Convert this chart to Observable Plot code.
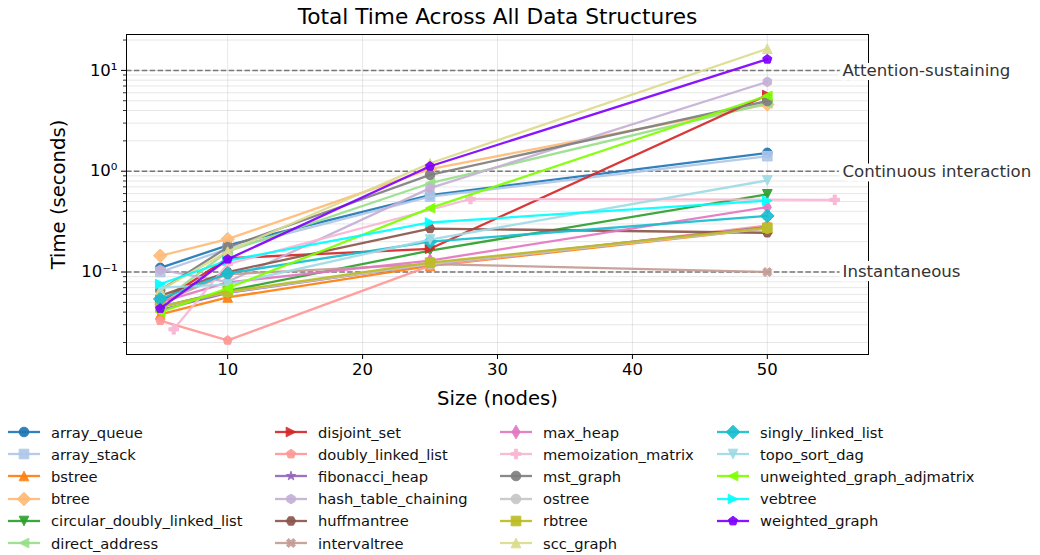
<!DOCTYPE html>
<html>
<head>
<meta charset="utf-8">
<script src="https://cdn.jsdelivr.net/npm/d3@7"></script>
<script src="https://cdn.jsdelivr.net/npm/@observablehq/plot@0.6"></script>
<style>
  body { margin: 0; background: white; }
  #wrap { width: 1040px; height: 555px; position: relative; background: white; font-family: "DejaVu Sans", sans-serif; overflow: hidden; }
  #legend { position: absolute; left: 8px; top: 421px; display: grid; grid-auto-flow: column;
    grid-template-columns: 267px 225px 217px 300px; grid-template-rows: repeat(6, 22.2px); }
  .item { display: flex; align-items: center; font-size: 14.7px; color: #111; white-space: nowrap; }
  .item span { margin-left: 11px; }
</style>
</head>
<body>
<div id="wrap"><div id="chart"></div><div id="legend"></div></div>
<script>
// ---------------- data ----------------
const sizes = [5, 10, 25, 50];
const memoSizes = [6, 10, 28, 55];
const names = ["array_queue","array_stack","bstree","btree","circular_doubly_linked_list","direct_address",
  "disjoint_set","doubly_linked_list","fibonacci_heap","hash_table_chaining","huffmantree","intervaltree",
  "max_heap","memoization_matrix","mst_graph","ostree","rbtree","scc_graph","singly_linked_list",
  "topo_sort_dag","unweighted_graph_adjmatrix","vebtree","weighted_graph"];
const colors = ["#1f77b4","#aec7e8","#ff7f0e","#ffbb78","#2ca02c","#98df8a","#d62728","#ff9896","#9467bd",
  "#c5b0d5","#8c564b","#c49c94","#e377c2","#f7b6d2","#7f7f7f","#c7c7c7","#bcbd22","#dbdb8d","#17becf",
  "#9edae5","#7fff00","#00ffff","#7f00ff"];
const markers = ["o","s","^","D","v","<",">","p","*","h","H","X","d","P","o","o","s","^","D","v","<",">","p"];

const array_queue = [0.110, 0.184, 0.58, 1.52];
const array_stack = [0.100, 0.170, 0.56, 1.41];
const bstree = [0.038, 0.056, 0.115, 0.27];
const btree = [0.145, 0.212, 1.05, 4.6];
const circular_doubly_linked_list = [0.045, 0.065, 0.163, 0.59];
const direct_address = [0.050, 0.160, 0.76, 4.7];
const disjoint_set = [0.050, 0.137, 0.17, 5.7];
const doubly_linked_list = [0.033, 0.021, 0.115, 0.29];
const fibonacci_heap = [0.042, 0.062, 0.12, 0.28];
const hash_table_chaining = [0.105, 0.080, 0.68, 7.7];
const huffmantree = [0.058, 0.100, 0.27, 0.245];
const intervaltree = [0.050, 0.095, 0.12, 0.10];
const max_heap = [0.050, 0.079, 0.13, 0.44];
const memoization_matrix = [0.027, 0.12, 0.53, 0.52];
const mst_graph = [0.066, 0.176, 0.92, 4.97];
const ostree = [0.045, 0.063, 0.12, 0.27];
const rbtree = [0.045, 0.064, 0.124, 0.275];
const scc_graph = [0.066, 0.16, 1.2, 16.4];
const singly_linked_list = [0.054, 0.097, 0.20, 0.36];
const topo_sort_dag = [0.070, 0.075, 0.21, 0.81];
const unweighted_graph_adjmatrix = [0.040, 0.069, 0.43, 5.6];
const vebtree = [0.076, 0.13, 0.31, 0.51];
const weighted_graph = [0.0435, 0.134, 1.12, 12.9];

const seriesValues = [array_queue, array_stack, bstree, btree, circular_doubly_linked_list, direct_address,
  disjoint_set, doubly_linked_list, fibonacci_heap, hash_table_chaining, huffmantree, intervaltree,
  max_heap, memoization_matrix, mst_graph, ostree, rbtree, scc_graph, singly_linked_list,
  topo_sort_dag, unweighted_graph_adjmatrix, vebtree, weighted_graph];

const xTicks = [10, 20, 30, 40, 50];
const yTicks = [0.1, 1, 10];
const yTickLabels = ["10\u207B\u00B9", "10\u2070", "10\u00B9"];
const yMinorTicks = [0.02,0.03,0.04,0.05,0.06,0.07,0.08,0.09,0.2,0.3,0.4,0.5,0.6,0.7,0.8,0.9,2,3,4,5,6,7,8,9,20];
const thresholdValues = [10, 1, 0.1];
const thresholdLabels = ["Attention-sustaining", "Continuous interaction", "Instantaneous"];

// ---------------- symbols (matplotlib-like) ----------------
function poly(ctx, pts) { ctx.moveTo(pts[0][0], pts[0][1]); for (let i = 1; i < pts.length; i++) ctx.lineTo(pts[i][0], pts[i][1]); ctx.closePath(); }
function regular(n, r, rot = 0) { const p = []; for (let k = 0; k < n; k++) { const a = (90 + rot + 360 * k / n) * Math.PI / 180; p.push([r * Math.cos(a), -r * Math.sin(a)]); } return p; }
function mk(fn) { return { draw(ctx, size) { const r = Math.sqrt(size / Math.PI); fn(ctx, r); } }; }
const symbolDefs = {
  "o": mk((c, r) => { c.moveTo(r, 0); c.arc(0, 0, r, 0, 2 * Math.PI); }),
  "s": mk((c, r) => poly(c, [[-r,-r],[r,-r],[r,r],[-r,r]])),
  "^": mk((c, r) => poly(c, [[0,-r],[r,r],[-r,r]])),
  "v": mk((c, r) => poly(c, [[0,r],[r,-r],[-r,-r]])),
  "<": mk((c, r) => poly(c, [[-r,0],[r,-r],[r,r]])),
  ">": mk((c, r) => poly(c, [[r,0],[-r,-r],[-r,r]])),
  "D": mk((c, r) => { const a = r * Math.SQRT2; poly(c, [[0,-a],[a,0],[0,a],[-a,0]]); }),
  "d": mk((c, r) => { const a = r * Math.SQRT2; poly(c, [[0,-a],[0.6*a,0],[0,a],[-0.6*a,0]]); }),
  "p": mk((c, r) => poly(c, regular(5, r))),
  "h": mk((c, r) => poly(c, regular(6, r))),
  "H": mk((c, r) => poly(c, regular(6, r, 30))),
  "*": mk((c, r) => { const p = []; for (let k = 0; k < 10; k++) { const rr = k % 2 ? r * 0.381966 : r; const a = (90 + 36 * k) * Math.PI / 180; p.push([rr * Math.cos(a), -rr * Math.sin(a)]); } poly(c, p); }),
  "P": mk((c, r) => { const t = r / 3; poly(c, [[-t,-r],[t,-r],[t,-t],[r,-t],[r,t],[t,t],[t,r],[-t,r],[-t,t],[-r,t],[-r,-t],[-t,-t]]); }),
  "X": mk((c, r) => { const t = r / 3, s = Math.SQRT1_2; const base = [[-t,-r],[t,-r],[t,-t],[r,-t],[r,t],[t,t],[t,r],[-t,r],[-t,t],[-r,t],[-r,-t],[-t,-t]]; poly(c, base.map(([x, y]) => [(x - y) * s, (x + y) * s])); })
};

// ---------------- build table ----------------
const rows = [];
names.forEach((n, i) => {
  const xs = n === "memoization_matrix" ? memoSizes : sizes;
  seriesValues[i].forEach((v, j) => rows.push({ name: n, size: xs[j], time: v }));
});
const thresholds = thresholdValues.map((v, i) => ({ value: v, label: thresholdLabels[i] }));
const yLabelFor = d => { const k = yTicks.findIndex(t => Math.abs(t - d) < 1e-9 * Math.max(1, t)); return k >= 0 ? yTickLabels[k] : ""; };

const R = 4.8;
const LW = 2.3;
const OP = 0.92;

const marks = [
  Plot.gridY(yMinorTicks, { stroke: "#b0b0b0", strokeOpacity: 0.3, strokeWidth: 1 }),
  Plot.gridY(yTicks, { stroke: "#b0b0b0", strokeOpacity: 0.3, strokeWidth: 1 }),
  Plot.gridX(xTicks, { stroke: "#b0b0b0", strokeOpacity: 0.3, strokeWidth: 1 }),
  Plot.ruleY(thresholds, { y: "value", stroke: "#777", strokeWidth: 1.5, strokeDasharray: "5.5,2.4" })
];
names.forEach(n => {
  const d = rows.filter(r => r.name === n);
  marks.push(Plot.line(d, { x: "size", y: "time", stroke: "name", strokeWidth: LW, strokeOpacity: OP }));
  marks.push(Plot.dot(d, { x: "size", y: "time", fill: "name", stroke: "name", strokeWidth: 1, symbol: "name", r: R, fillOpacity: OP, strokeOpacity: OP }));
});
marks.push(
  Plot.axisX({ ticks: xTicks, tickSize: 5, tickPadding: 4, fontSize: 16.5, label: null, stroke: "black" }),
  Plot.axisY({ ticks: yMinorTicks, tickSize: 3, tickFormat: () => "", label: null, strokeWidth: 0.8 }),
  Plot.axisY({ ticks: yTicks, tickSize: 5, tickPadding: 4, fontSize: 16.5, tickFormat: yLabelFor, label: null }),
  Plot.frame({ stroke: "black", strokeWidth: 1 }),
  Plot.text(thresholds, { y: "value", text: "label", frameAnchor: "right", textAnchor: "start", lineAnchor: "middle", dx: -26,
    fontSize: 16.6, fill: "#333", stroke: "white", strokeWidth: 9, paintOrder: "stroke", strokeLinejoin: "round" }),
  Plot.text(["Total Time Across All Data Structures"], { text: d => d, frameAnchor: "top", textAnchor: "middle", lineAnchor: "middle", dy: -17, fontSize: 21.7, fill: "black" }),
  Plot.text(["Time (seconds)"], { text: d => d, frameAnchor: "left", textAnchor: "middle", lineAnchor: "middle", dx: -68, rotate: -90, fontSize: 19.6, fill: "black" }),
  Plot.text(["Size (nodes)"], { text: d => d, frameAnchor: "bottom", textAnchor: "middle", lineAnchor: "middle", dy: 44, fontSize: 19.6, fill: "black" })
);

const chart = Plot.plot({
  width: 1040, height: 415,
  marginLeft: 126, marginRight: 172, marginTop: 34, marginBottom: 61,
  style: { fontFamily: "DejaVu Sans, sans-serif", fontSize: "15px", background: "white", color: "black" },
  x: { domain: [2.5, 57.5] },
  y: { type: "log", domain: [0.0152, 22.7] },
  color: { domain: names, range: colors },
  symbol: { domain: names, range: markers.map(m => symbolDefs[m]) },
  marks
});
document.getElementById("chart").appendChild(chart);

// ---------------- legend ----------------
const legend = d3.select("#legend");
names.forEach((n, i) => {
  const item = legend.append("div").attr("class", "item");
  const svg = item.append("svg").attr("width", 32).attr("height", 22);
  svg.append("line").attr("x1", 0).attr("x2", 32).attr("y1", 11).attr("y2", 11)
    .attr("stroke", colors[i]).attr("stroke-width", LW).attr("stroke-opacity", OP);
  svg.append("path").attr("transform", "translate(16,11)")
    .attr("d", d3.symbol().type(symbolDefs[markers[i]]).size(Math.PI * R * R)())
    .attr("fill", colors[i]).attr("stroke", colors[i]).attr("stroke-width", 1).attr("opacity", OP);
  item.append("span").text(n);
});
</script>
</body>
</html>
